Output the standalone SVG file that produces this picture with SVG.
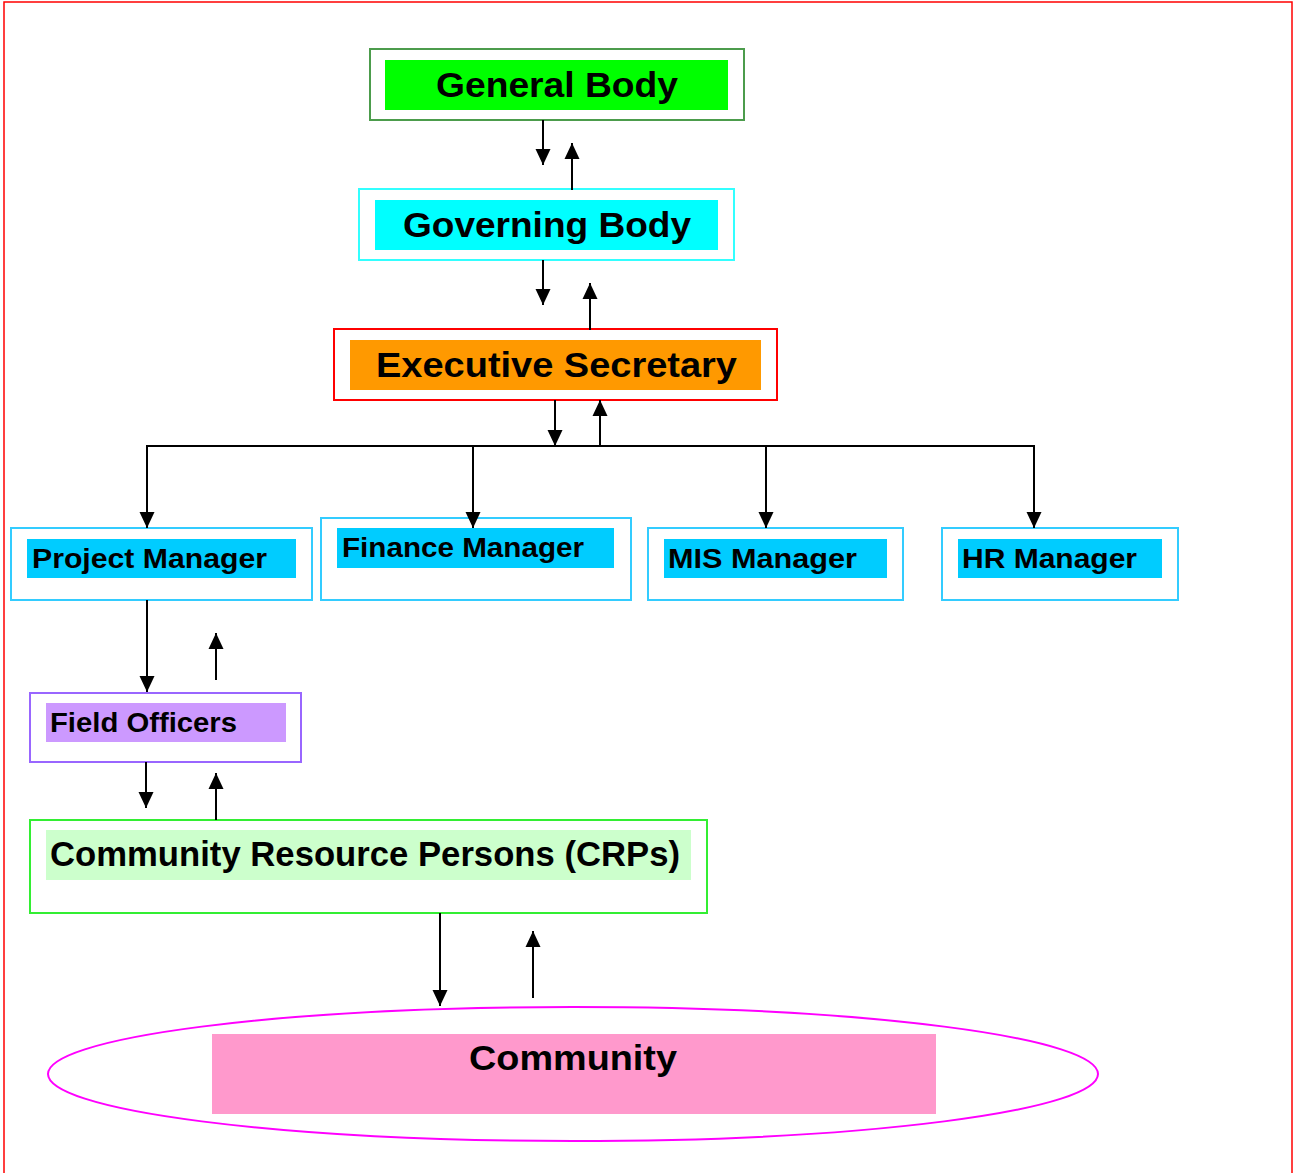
<svg xmlns="http://www.w3.org/2000/svg" width="1293" height="1173" viewBox="0 0 1293 1173">
<style>
  .lbl { font-family: "Liberation Sans", Arial, sans-serif; font-weight: bold; fill: #000; }
  .big { font-size: 35px; }
  .mid { font-size: 27px; }
  .conn { stroke: #000; stroke-width: 2; fill: none; }
</style>
<defs>
  <marker id="ah" markerUnits="userSpaceOnUse" markerWidth="16" markerHeight="16" viewBox="0 0 16 16" refX="16" refY="8" orient="auto">
    <path d="M0,0.5 L16,8 L0,15.5 Z" fill="#000"/>
  </marker>
</defs>
<rect x="4" y="2" width="1288" height="1190" fill="#fff" stroke="#ff0000" stroke-width="1.5"/>

<g id="general-body">
  <rect x="370" y="49" width="374" height="71" fill="#fff" stroke="#4c9c4c" stroke-width="2"/>
  <rect x="385" y="60" width="343" height="50" fill="#00ff00"/>
  <text class="lbl big" x="436" y="97" textLength="242" lengthAdjust="spacingAndGlyphs">General Body</text>
</g>
<g id="governing-body">
  <rect x="359" y="189" width="375" height="71" fill="#fff" stroke="#33ffff" stroke-width="2"/>
  <rect x="375" y="200" width="343" height="50" fill="#00ffff"/>
  <text class="lbl big" x="403" y="237" textLength="288" lengthAdjust="spacingAndGlyphs">Governing Body</text>
</g>
<g id="executive-secretary">
  <rect x="334" y="329" width="443" height="71" fill="#fff" stroke="#ff0000" stroke-width="2"/>
  <rect x="350" y="340" width="411" height="50" fill="#ff9900"/>
  <text class="lbl big" x="376" y="377" textLength="361" lengthAdjust="spacingAndGlyphs">Executive Secretary</text>
</g>
<g id="project-manager">
  <rect x="11" y="528" width="301" height="72" fill="#fff" stroke="#33ccff" stroke-width="2"/>
  <rect x="27" y="539" width="269" height="39" fill="#00ccff"/>
  <text class="lbl mid" x="32" y="568" textLength="235" lengthAdjust="spacingAndGlyphs">Project Manager</text>
</g>
<g id="finance-manager">
  <rect x="321" y="518" width="310" height="82" fill="#fff" stroke="#33ccff" stroke-width="2"/>
  <rect x="337" y="528" width="277" height="40" fill="#00ccff"/>
  <text class="lbl mid" x="342" y="557" textLength="242" lengthAdjust="spacingAndGlyphs">Finance Manager</text>
</g>
<g id="mis-manager">
  <rect x="648" y="528" width="255" height="72" fill="#fff" stroke="#33ccff" stroke-width="2"/>
  <rect x="664" y="539" width="223" height="39" fill="#00ccff"/>
  <text class="lbl mid" x="668" y="568" textLength="189" lengthAdjust="spacingAndGlyphs">MIS Manager</text>
</g>
<g id="hr-manager">
  <rect x="942" y="528" width="236" height="72" fill="#fff" stroke="#33ccff" stroke-width="2"/>
  <rect x="958" y="539" width="204" height="39" fill="#00ccff"/>
  <text class="lbl mid" x="962" y="568" textLength="175" lengthAdjust="spacingAndGlyphs">HR Manager</text>
</g>
<g id="field-officers">
  <rect x="30" y="693" width="271" height="69" fill="#fff" stroke="#9966ff" stroke-width="2"/>
  <rect x="46" y="703" width="240" height="39" fill="#cc99ff"/>
  <text class="lbl mid" x="50" y="732" textLength="187" lengthAdjust="spacingAndGlyphs">Field Officers</text>
</g>
<g id="crps">
  <rect x="30" y="820" width="677" height="93" fill="#fff" stroke="#33ee33" stroke-width="2"/>
  <rect x="46" y="830" width="645" height="50" fill="#ccffcc"/>
  <text class="lbl big" x="50" y="866" textLength="630" lengthAdjust="spacingAndGlyphs">Community Resource Persons (CRPs)</text>
</g>
<g id="community">
  <ellipse cx="573" cy="1074" rx="525" ry="67" fill="#fff" stroke="#ff00ff" stroke-width="2"/>
  <rect x="212" y="1034" width="724" height="80" fill="#ff99cc"/>
  <text class="lbl big" x="573" y="1070" text-anchor="middle" textLength="208" lengthAdjust="spacingAndGlyphs">Community</text>
</g>

<g id="connectors" class="conn">
  <line x1="543" y1="120" x2="543" y2="165" marker-end="url(#ah)"/>
  <line x1="572" y1="190" x2="572" y2="143" marker-end="url(#ah)"/>
  <line x1="543" y1="260" x2="543" y2="305" marker-end="url(#ah)"/>
  <line x1="590" y1="330" x2="590" y2="283" marker-end="url(#ah)"/>
  <line x1="555" y1="400" x2="555" y2="446" marker-end="url(#ah)"/>
  <line x1="600" y1="446" x2="600" y2="400" marker-end="url(#ah)"/>
  <line x1="146" y1="446" x2="1035" y2="446"/>
  <line x1="147" y1="446" x2="147" y2="528" marker-end="url(#ah)"/>
  <line x1="473" y1="446" x2="473" y2="528" marker-end="url(#ah)"/>
  <line x1="766" y1="446" x2="766" y2="528" marker-end="url(#ah)"/>
  <line x1="1034" y1="446" x2="1034" y2="528" marker-end="url(#ah)"/>
  <line x1="147" y1="600" x2="147" y2="692" marker-end="url(#ah)"/>
  <line x1="216" y1="680" x2="216" y2="633" marker-end="url(#ah)"/>
  <line x1="146" y1="762" x2="146" y2="808" marker-end="url(#ah)"/>
  <line x1="216" y1="820" x2="216" y2="773" marker-end="url(#ah)"/>
  <line x1="440" y1="913" x2="440" y2="1006" marker-end="url(#ah)"/>
  <line x1="533" y1="998" x2="533" y2="931" marker-end="url(#ah)"/>
</g>
</svg>
